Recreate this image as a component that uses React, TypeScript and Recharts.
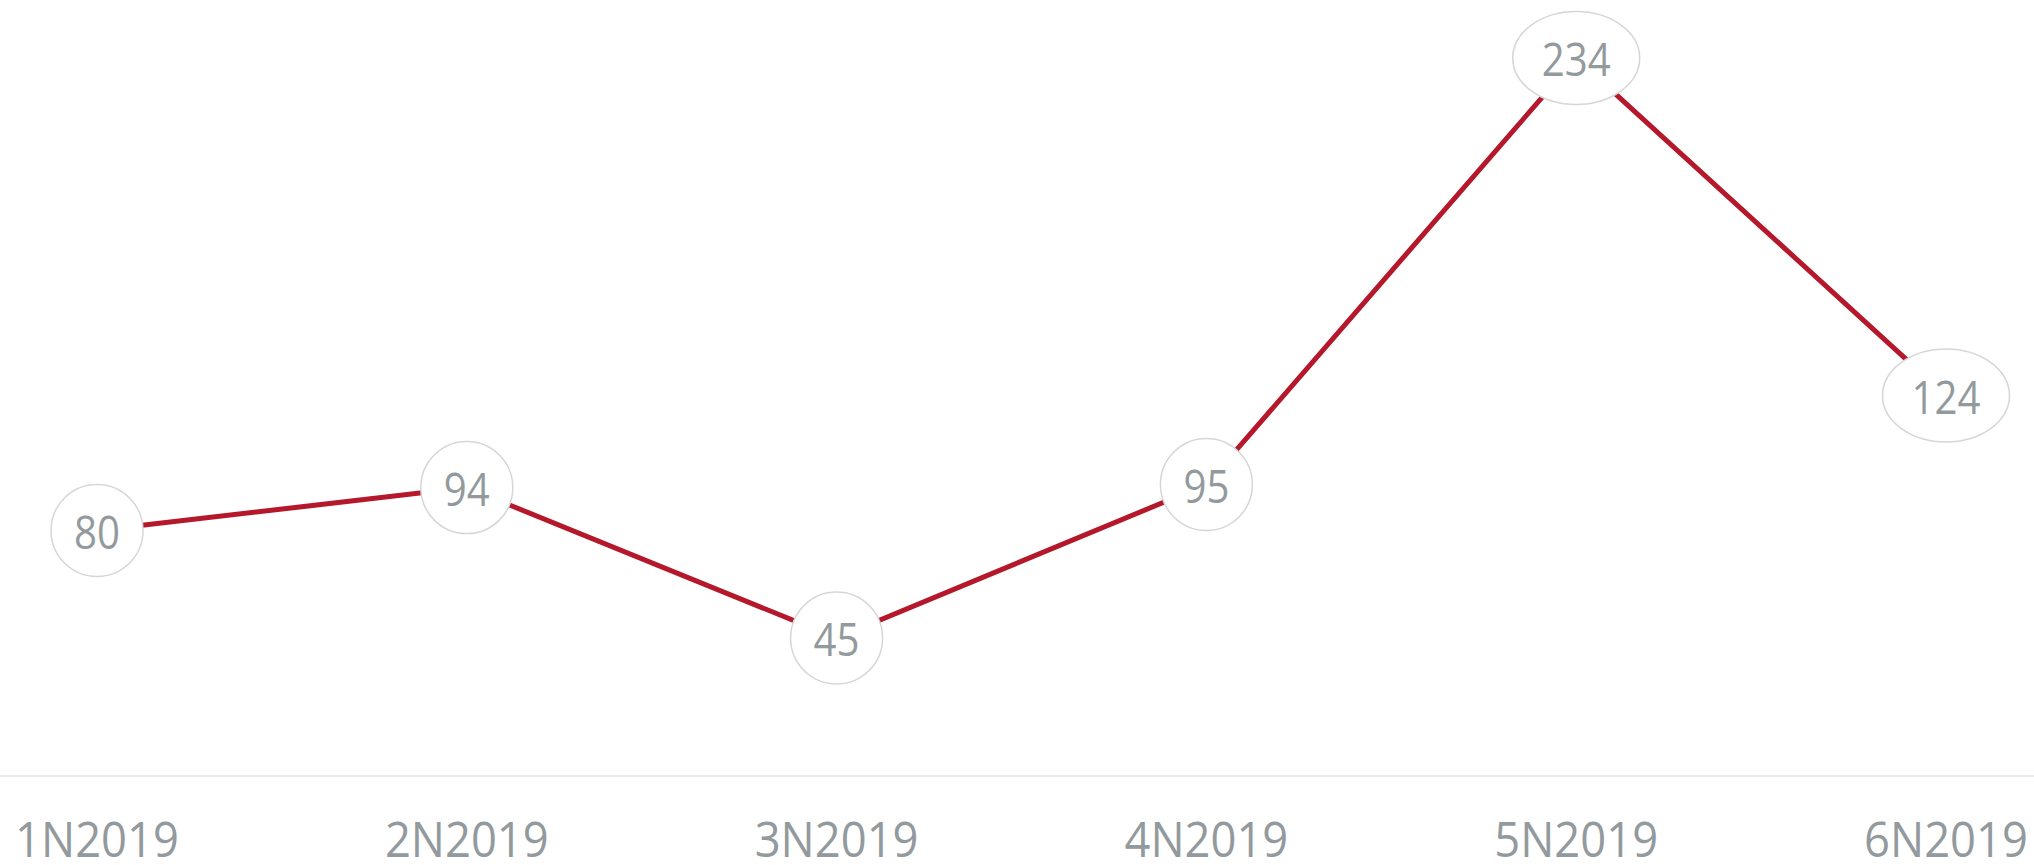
import { LineChart, Line, XAxis, YAxis, LabelList } from "recharts"

const periods = ["1N2019", "2N2019", "3N2019", "4N2019", "5N2019", "6N2019"]
const values = [80, 94, 45, 95, 234, 124]

const LINE = "#b5172b"
const TEXT = "#939a9d"
const RING = "#d6d6d6"
const FONT = "'Open Sans', 'Noto Sans', sans-serif"

const rows = periods.map((p, i) => ({ name: p, value: values[i] }))

function PeriodTick(props: any) {
  const { x, y, payload } = props
  const s = String(payload.value)
  return (
    <text
      x={x}
      y={y + 73}
      textAnchor="middle"
      fill={TEXT}
      fontFamily={FONT}
      fontSize={50}
      textLength={s.length * 27.3}
      lengthAdjust="spacingAndGlyphs"
    >
      {s}
    </text>
  )
}

function Bubble(props: any) {
  const { x, y, value } = props
  const s = String(value)
  const wide = s.length > 2
  return (
    <g>
      <ellipse cx={x} cy={y} rx={wide ? 63.5 : 46} ry={wide ? 46.5 : 46} fill="#fff" stroke={RING} strokeWidth={1.5} />
      <text
        x={x}
        y={y + 18}
        textAnchor="middle"
        fill={TEXT}
        fontFamily={FONT}
        fontSize={45}
        textLength={s.length * 23}
        lengthAdjust="spacingAndGlyphs"
      >
        {s}
      </text>
    </g>
  )
}

export default function App() {
  return (
    <div style={{ position: "absolute", left: 0, top: 0, width: 2034, height: 865, background: "#fff" }}>
      <LineChart width={2034} height={865} data={rows} margin={{ top: 9, right: 0, bottom: 0, left: 0 }}>
        <XAxis
          dataKey="name"
          padding={{ left: 97, right: 88 }}
          axisLine={{ stroke: "#e3e3e3", strokeWidth: 1.5 }}
          tickLine={false}
          tick={<PeriodTick />}
          height={89}
          interval={0}
        />
        <YAxis hide domain={[0, 250]} />
        <Line
          type="linear"
          dataKey="value"
          stroke={LINE}
          strokeWidth={5}
          dot={false}
          activeDot={false}
          isAnimationActive={false}
        >
          <LabelList dataKey="value" content={<Bubble />} />
        </Line>
      </LineChart>
    </div>
  )
}
